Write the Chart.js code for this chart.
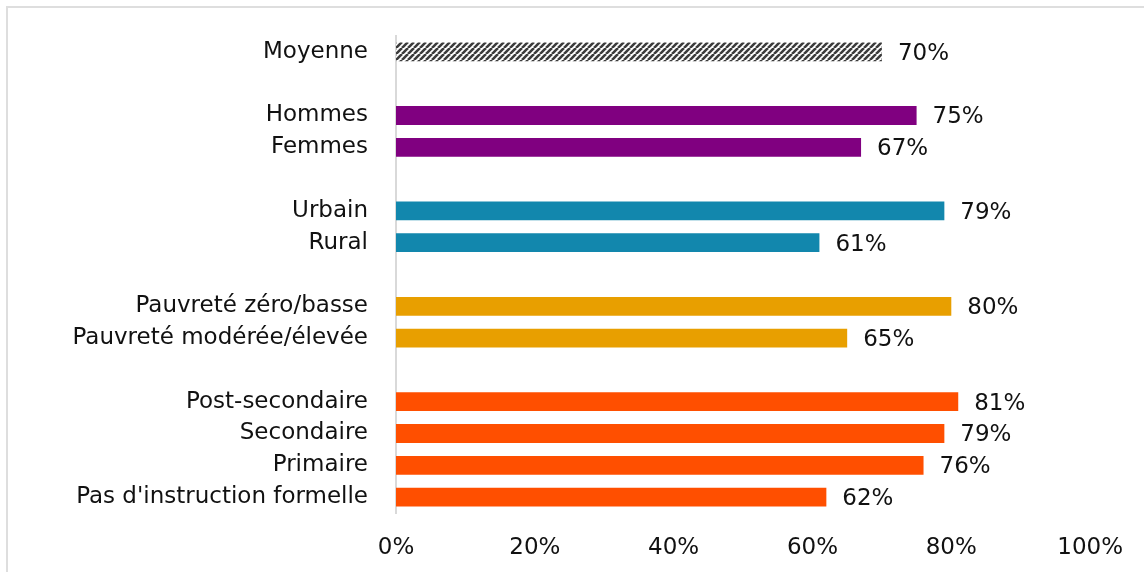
<!DOCTYPE html>
<html>
<head>
<meta charset="utf-8">
<script src="https://cdn.jsdelivr.net/npm/chart.js@4.4.1/dist/chart.umd.min.js"></script>
<style>
  html, body { margin: 0; padding: 0; background: #fff; }
  #wrap { width: 1144px; height: 572px; position: relative; }
</style>
</head>
<body>
<div id="wrap"><canvas id="c" width="1144" height="572"></canvas></div>
<script>
// Groups separated by empty rows
const categories = [
  'Moyenne', '',
  'Hommes', 'Femmes', '',
  'Urbain', 'Rural', '',
  'Pauvreté zéro/basse', 'Pauvreté modérée/élevée', '',
  'Post-secondaire', 'Secondaire', 'Primaire', "Pas d'instruction formelle"
];
const values = [
  70, null,
  75, 67, null,
  79, 61, null,
  80, 65, null,
  81, 79, 76, 62
];
const groupColors = {
  avg: 'hatch',
  sex: '#800080',
  area: '#1287ad',
  poverty: '#e89f00',
  education: '#ff4f00'
};
const groups = [
  'avg', null,
  'sex', 'sex', null,
  'area', 'area', null,
  'poverty', 'poverty', null,
  'education', 'education', 'education', 'education'
];
const xTicks = [0, 20, 40, 60, 80, 100];

const FONT = 'DejaVu Sans';
const FONT_SIZE = 23;

// Diagonal hatch fill for the average bar
function makeHatch() {
  const s = 6;
  const c = document.createElement('canvas');
  c.width = s; c.height = s;
  const g = c.getContext('2d');
  g.fillStyle = '#ffffff';
  g.fillRect(0, 0, s, s);
  g.strokeStyle = '#3c3c3c';
  g.lineWidth = 2.6;
  g.beginPath();
  for (let k = -1; k <= 1; k++) {
    g.moveTo(k * s, s);
    g.lineTo(k * s + s, 0);
  }
  g.stroke();
  return document.getElementById('c').getContext('2d').createPattern(c, 'repeat');
}
const hatch = makeHatch();
const barColors = groups.map(g => g === null ? 'rgba(0,0,0,0)' : (groupColors[g] === 'hatch' ? hatch : groupColors[g]));

// Outer frame lines (top and left)
const framePlugin = {
  id: 'frame',
  beforeDraw(chart) {
    const ctx = chart.ctx;
    ctx.save();
    ctx.strokeStyle = '#dedede';
    ctx.lineWidth = 2;
    ctx.beginPath();
    ctx.moveTo(7, chart.height);
    ctx.lineTo(7, 7);
    ctx.lineTo(chart.width, 7);
    ctx.stroke();
    ctx.restore();
  }
};

// Percentage labels to the right of each bar
const valueLabels = {
  id: 'valueLabels',
  afterDatasetsDraw(chart) {
    const ctx = chart.ctx;
    const meta = chart.getDatasetMeta(0);
    ctx.save();
    ctx.font = FONT_SIZE + 'px "' + FONT + '"';
    ctx.fillStyle = '#111';
    ctx.textAlign = 'left';
    ctx.textBaseline = 'middle';
    meta.data.forEach((bar, i) => {
      const v = values[i];
      if (v === null) return;
      ctx.fillText(v + '%', bar.x + 16, bar.y + 2);
    });
    ctx.restore();
  }
};

new Chart(document.getElementById('c'), {
  type: 'bar',
  data: {
    labels: categories,
    datasets: [{
      data: values,
      backgroundColor: barColors,
      borderWidth: 0,
      categoryPercentage: 1,
      barPercentage: 0.59
    }]
  },
  options: {
    indexAxis: 'y',
    responsive: false,
    animation: false,
    events: [],
    layout: { padding: { top: 36, right: 52, left: 0, bottom: 0 } },
    plugins: {
      legend: { display: false },
      tooltip: { enabled: false }
    },
    scales: {
      x: {
        min: 0,
        max: 100,
        afterBuildTicks(scale) {
          scale.ticks = xTicks.map(v => ({ value: v }));
        },
        afterFit(scale) { scale.height = 59; },
        grid: { display: false, drawTicks: false },
        border: { display: false },
        ticks: {
          padding: 21,
          color: '#111',
          maxRotation: 0,
          font: { family: FONT, size: FONT_SIZE },
          callback: v => v + '%'
        }
      },
      y: {
        afterFit(scale) { scale.width = 396; },
        grid: { display: false, drawTicks: false },
        border: { display: true, color: '#d9d9d9', width: 2 },
        ticks: {
          padding: 28,
          color: '#111',
          autoSkip: false,
          font: { family: FONT, size: FONT_SIZE, lineHeight: 0.5 }
        }
      }
    }
  },
  plugins: [framePlugin, valueLabels]
});
</script>
</body>
</html>
